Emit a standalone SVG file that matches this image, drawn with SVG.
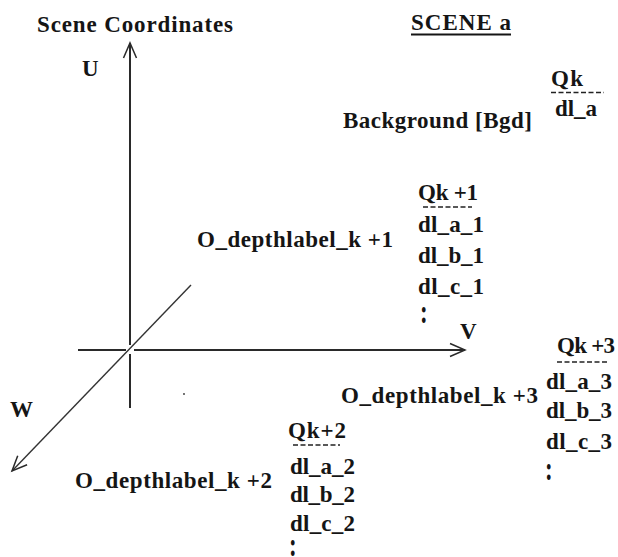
<svg xmlns="http://www.w3.org/2000/svg" width="618" height="557" viewBox="0 0 618 557">
<style>
text{font-family:"Liberation Serif","Times New Roman",serif;font-weight:bold;font-size:23px;fill:#151515}
.dash{stroke:#222;stroke-width:1.3;stroke-dasharray:5 2.5;fill:none}
.ax{stroke:#2a2a2a;stroke-width:2;fill:none}
.diag{stroke:#333;stroke-width:1.4;fill:none}
</style>
<defs>
<marker id="open" viewBox="0 0 20 16" refX="16" refY="8" markerWidth="20" markerHeight="16" markerUnits="userSpaceOnUse" orient="auto">
<path d="M1 1.5 L16 8 L1 14.5" fill="none" stroke="#2a2a2a" stroke-width="1.5"/>
</marker>
</defs>
<rect width="618" height="557" fill="#fff"/>
<g id="connectors">
<line class="ax" x1="130" y1="345" x2="130" y2="43" marker-end="url(#open)"/>
<line class="ax" x1="130" y1="354" x2="130" y2="408"/>
<line class="ax" x1="78" y1="350" x2="126" y2="350"/>
<line class="ax" x1="134" y1="350" x2="465" y2="350" marker-end="url(#open)"/>
<line class="diag" x1="191" y1="285" x2="12" y2="471" marker-end="url(#open)"/>
<circle cx="184" cy="394" r="0.9" fill="#333"/>
</g>
<g id="axis-labels">
<text x="37" y="32" textLength="196" lengthAdjust="spacing">Scene Coordinates</text>
<text x="82" y="76">U</text>
<text x="460" y="339">V</text>
<text x="10" y="417">W</text>
</g>
<g id="scene-title">
<text x="411" y="30" textLength="100" lengthAdjust="spacing">SCENE a</text>
<rect x="411" y="33.5" width="100" height="2" fill="#151515"/>
</g>
<g id="background">
<text x="343" y="128" textLength="189" lengthAdjust="spacing">Background [Bgd]</text>
<text x="551" y="86" textLength="32" lengthAdjust="spacing">Qk</text>
<line class="dash" x1="551" y1="92.5" x2="604" y2="92.5"/>
<text x="555" y="116" textLength="42" lengthAdjust="spacing">dl_a</text>
</g>
<g id="object-k1">
<text x="197" y="247" textLength="196" lengthAdjust="spacing">O_depthlabel_k +1</text>
<text x="418" y="200" textLength="60" lengthAdjust="spacing">Qk +1</text>
<line class="dash" x1="423" y1="207" x2="472" y2="207"/>
<text x="418" y="232" textLength="66" lengthAdjust="spacing">dl_a_1</text>
<text x="418" y="263" textLength="66" lengthAdjust="spacing">dl_b_1</text>
<text x="418" y="294" textLength="66" lengthAdjust="spacing">dl_c_1</text>
<text transform="translate(420,323) scale(1,1.45)">:</text>
</g>
<g id="object-k3">
<text x="341" y="403" textLength="197" lengthAdjust="spacing">O_depthlabel_k +3</text>
<text x="557" y="353" textLength="58" lengthAdjust="spacing">Qk +3</text>
<line class="dash" x1="557" y1="362" x2="607" y2="362"/>
<text x="546" y="389" textLength="66" lengthAdjust="spacing">dl_a_3</text>
<text x="546" y="418" textLength="66" lengthAdjust="spacing">dl_b_3</text>
<text x="546" y="449" textLength="66" lengthAdjust="spacing">dl_c_3</text>
<text transform="translate(545,480) scale(1,1.45)">:</text>
</g>
<g id="object-k2">
<text x="75" y="488" textLength="197" lengthAdjust="spacing">O_depthlabel_k +2</text>
<text x="288" y="438" textLength="58" lengthAdjust="spacing">Qk+2</text>
<line class="dash" x1="293" y1="445" x2="340" y2="445"/>
<text x="290" y="474" textLength="65" lengthAdjust="spacing">dl_a_2</text>
<text x="290" y="502" textLength="65" lengthAdjust="spacing">dl_b_2</text>
<text x="290" y="531" textLength="65" lengthAdjust="spacing">dl_c_2</text>
<text transform="translate(289,556) scale(1,1.45)">:</text>
</g>
</svg>
